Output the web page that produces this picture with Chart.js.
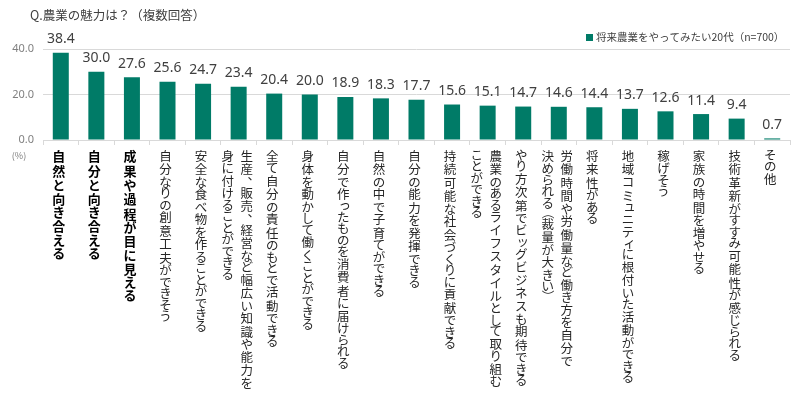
<!DOCTYPE html>
<html><head><meta charset="utf-8">
<script src="https://cdn.jsdelivr.net/npm/chart.js@4.4.1/dist/chart.umd.min.js"></script>
<style>html,body{margin:0;padding:0;background:#fff}canvas{display:block}</style>
</head><body>
<canvas id="c" width="800" height="403"></canvas>
<script>
const titleText = 'Q.農業の魅力は？（複数回答）';
const seriesName = '将来農業をやってみたい20代（n=700）';
const unitLabel = '(%)';
const categories = [
  ['自然と向き合える'],
  ['自分と向き合える'],
  ['成果や過程が目に見える'],
  ['自分なりの創意工夫ができそう'],
  ['安全な食べ物を作ることができる'],
  ['生産、販売、経営など幅広い知識や能力を', '身に付けることができる'],
  ['全て自分の責任のもとで活動できる'],
  ['身体を動かして働くことができる'],
  ['自分で作ったものを消費者に届けられる'],
  ['自然の中で子育てができる'],
  ['自分の能力を発揮できる'],
  ['持続可能な社会づくりに貢献できる'],
  ['農業のあるライフスタイルとして取り組む', 'ことができる'],
  ['やり方次第でビッグビジネスも期待できる'],
  ['労働時間や労働量など働き方を自分で', '決められる（裁量が大きい）'],
  ['将来性がある'],
  ['地域コミュニティに根付いた活動ができる'],
  ['稼げそう'],
  ['家族の時間を増やせる'],
  ['技術革新がすすみ可能性が感じられる'],
  ['その他']
];
const values = [38.4, 30.0, 27.6, 25.6, 24.7, 23.4, 20.4, 20.0, 18.9, 18.3, 17.7, 15.6, 15.1, 14.7, 14.6, 14.4, 13.7, 12.6, 11.4, 9.4, 0.7];
const yTickValues = [0, 20, 40];
const boldCategoryCount = 3;

const BAR = '#007B67';
const GRID = '#d9d9d9';
const JP = '"Noto Sans CJK JP", "Noto Sans", sans-serif';

const SMALL_KANA = /[ぁぃぅぇぉっゃゅょゎァィゥェォッャュョヮ]/;
function charAdvance(ch) {
  if (SMALL_KANA.test(ch)) return 10;
  if (/[ぁ-ゖ]/.test(ch)) return 11.5;
  if (/[ァ-ヺー]/.test(ch)) return 13.2;
  if (ch === '、' || ch === '。') return 10;
  if (ch === '（' || ch === '）') return 8.5;
  return 13.5;
}

function drawVertical(ctx, text, x, top, bold) {
  const scale = bold ? 1.1 : 1;
  ctx.font = (bold ? 'bold 13px ' : '12.5px ') + JP;
  ctx.fillStyle = bold ? '#000000' : '#262626';
  ctx.textAlign = 'center';
  ctx.textBaseline = 'middle';
  let y = top;
  for (const ch of text) {
    const adv = charAdvance(ch) * scale;
    const cy = y + adv / 2;
    if (ch === '（' || ch === '）') {
      ctx.save();
      ctx.translate(x, cy);
      ctx.rotate(Math.PI / 2);
      ctx.fillText(ch, 0, 0);
      ctx.restore();
    } else if (ch === '、' || ch === '。') {
      ctx.fillText(ch, x + 7, cy - 6);
    } else if (SMALL_KANA.test(ch)) {
      ctx.fillText(ch, x + 1.5, cy - 1);
    } else {
      ctx.fillText(ch, x, cy);
    }
    y += adv;
  }
}

const decorPlugin = {
  id: 'decor',
  afterDraw(chart) {
    const ctx = chart.ctx;
    const meta = chart.getDatasetMeta(0);
    const xs = chart.scales.x;
    ctx.save();
    // title
    ctx.font = '12.5px ' + JP;
    ctx.fillStyle = '#404040';
    ctx.textAlign = 'left';
    ctx.textBaseline = 'middle';
    ctx.fillText(titleText, 30, 15);
    // legend
    ctx.fillStyle = BAR;
    ctx.fillRect(586, 34, 7, 7);
    ctx.font = '10.5px ' + JP;
    ctx.fillStyle = '#404040';
    ctx.fillText(seriesName, 596, 37.5);
    // unit
    ctx.font = '9px ' + JP;
    ctx.fillStyle = '#808080';
    ctx.textAlign = 'center';
    ctx.fillText(unitLabel, 19, 156);
    // data labels
    ctx.font = '14px "Noto Sans", sans-serif';
    ctx.fillStyle = '#404040';
    ctx.textAlign = 'center';
    ctx.textBaseline = 'middle';
    meta.data.forEach((bar, i) => {
      ctx.fillText(values[i].toFixed(1), bar.x, bar.y - 13.5);
    });
    // category labels (vertical)
    categories.forEach((lines, i) => {
      const n = lines.length;
      const cx = xs.getPixelForValue(i) - (n > 1 ? 1.5 : 2);
      lines.forEach((line, j) => {
        const colX = cx + ((n - 1) / 2 - j) * 19;
        drawVertical(ctx, line, colX, 149, i < boldCategoryCount);
      });
    });
    ctx.restore();
  }
};

new Chart(document.getElementById('c'), {
  type: 'bar',
  data: {
    labels: categories.map(l => l.join('')),
    datasets: [{
      label: seriesName,
      data: values,
      backgroundColor: BAR,
      categoryPercentage: 1,
      barPercentage: 0.45
    }]
  },
  options: {
    responsive: false,
    devicePixelRatio: 1,
    animation: false,
    layout: { padding: { left: 0, right: 10, top: 49, bottom: 258 } },
    plugins: {
      legend: { display: false },
      title: { display: false },
      tooltip: { enabled: false }
    },
    scales: {
      x: {
        grid: { offset: true, drawOnChartArea: false, color: GRID, tickLength: 5, lineWidth: 1 },
        border: { color: GRID },
        ticks: { display: false }
      },
      y: {
        min: 0, max: 40,
        afterBuildTicks: s => { s.ticks = yTickValues.map(v => ({ value: v })); },
        afterFit: s => { s.width = 43; },
        ticks: {
          padding: 9,
          color: '#808080',
          font: { size: 11, family: '"Noto Sans", sans-serif' },
          callback: v => Number(v).toFixed(1)
        },
        grid: { color: GRID, drawTicks: false },
        border: { display: false }
      }
    }
  },
  plugins: [decorPlugin]
});
</script>
</body></html>
